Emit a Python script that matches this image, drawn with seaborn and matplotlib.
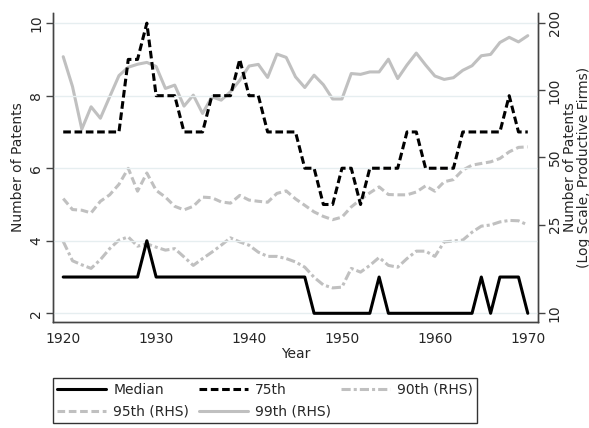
import matplotlib
matplotlib.use("Agg")
import matplotlib.pyplot as plt
import seaborn as sns
from matplotlib.ticker import FixedLocator, FixedFormatter, NullLocator

# patents per firm, percentiles by year
years = list(range(1920, 1971))
median = [3, 3, 3, 3, 3, 3, 3, 3, 3, 4,
          3, 3, 3, 3, 3, 3, 3, 3, 3, 3,
          3, 3, 3, 3, 3, 3, 3, 2, 2, 2,
          2, 2, 2, 2, 3, 2, 2, 2, 2, 2,
          2, 2, 2, 2, 2, 3, 2, 3, 3, 3, 2]
p75 = [7, 7, 7, 7, 7, 7, 7, 9, 9, 10,
       8, 8, 8, 7, 7, 7, 8, 8, 8, 9,
       8, 8, 7, 7, 7, 7, 6, 6, 5, 5,
       6, 6, 5, 6, 6, 6, 6, 7, 7, 6,
       6, 6, 6, 7, 7, 7, 7, 7, 8, 7, 7]
# right-hand side series (log scale)
p90 = [21.0, 17.2, 16.5, 15.9, 17.4, 19.5, 21.3, 22.0, 20.0, 20.5,
       19.8, 19.2, 19.5, 17.9, 16.4, 17.6, 18.8, 20.2, 21.8, 20.9,
       20.2, 18.8, 18.0, 18.0, 17.6, 17.0, 16.1, 14.5, 13.4, 13.0,
       13.1, 15.9, 15.3, 16.4, 17.8, 16.4, 16.1, 17.6, 19.0, 19.0,
       18.0, 20.9, 21.1, 21.3, 23.1, 24.6, 24.9, 25.7, 26.1, 26.0, 24.9]
p95 = [32.7, 29.2, 29.0, 28.2, 31.8, 34.0, 37.9, 44.7, 35.3, 42.6,
       35.6, 33.2, 30.2, 29.1, 30.2, 33.2, 33.0, 31.6, 31.2, 33.8,
       32.2, 31.8, 31.5, 34.5, 35.4, 32.6, 30.5, 28.5, 27.2, 26.3,
       27.0, 30.0, 32.4, 34.7, 36.9, 34.1, 34.0, 34.0, 35.0, 37.3,
       35.3, 38.9, 39.8, 43.9, 46.2, 47.0, 47.8, 49.5, 53.0, 55.5, 55.8]
p99 = [141.6, 104.0, 67.0, 84.4, 75.0, 93.6, 116.5, 127.0, 131.0, 133.5,
       128.0, 102.0, 105.6, 85.0, 95.2, 78.8, 93.6, 90.4, 98.6, 111.0,
       128.6, 130.8, 114.3, 145.5, 140.6, 115.0, 103.0, 117.0, 106.0, 91.5,
       91.5, 119.0, 118.0, 121.0, 121.0, 138.0, 113.0, 130.0, 147.0, 130.0,
       116.0, 112.0, 114.0, 123.0, 129.0, 143.0, 145.0, 164.0, 173.0, 165.0, 176.0]

left_ticks = [2, 4, 6, 8, 10]
right_ticks = [10, 25, 50, 100, 200]

sns.set_style("white")
plt.rcParams["font.family"] = ["DejaVu Sans"]

GRAY = "#c0c0c0"
LW = 2.2

fig = plt.figure(figsize=(5.89, 4.28), dpi=100)
ax = fig.add_axes([53 / 589, 1 - 322 / 428, 485 / 589, 309 / 428])
ax2 = ax.twinx()
ax.set_zorder(ax2.get_zorder() + 1)
ax.patch.set_visible(False)

# RHS series
sns.lineplot(x=years, y=p90, ax=ax2, color=GRAY, lw=LW,
             linestyle=(0, (3, 1, 1, 1)), label="90th (RHS)")
sns.lineplot(x=years, y=p95, ax=ax2, color=GRAY, lw=LW,
             linestyle=(0, (2.5, 1.2)), label="95th (RHS)")
sns.lineplot(x=years, y=p99, ax=ax2, color=GRAY, lw=LW, label="99th (RHS)")
# LHS series
sns.lineplot(x=years, y=median, ax=ax, color="black", lw=LW, label="Median")
sns.lineplot(x=years, y=p75, ax=ax, color="black", lw=LW,
             linestyle=(0, (2.5, 1.2)), label="75th")

for a in (ax, ax2):
    if a.get_legend() is not None:
        a.get_legend().remove()

ax.set_xlim(1918.9, 1971.1)
ax.set_ylim(1.76, 10.28)
ax.set_xticks([1920, 1930, 1940, 1950, 1960, 1970])
ax.yaxis.set_major_locator(FixedLocator(left_ticks))
ax.grid(axis="y", color="#e6eef0", lw=1)
ax.grid(axis="x", visible=False)

ax2.set_yscale("log")
ax2.set_ylim(9.14, 222.4)
ax2.yaxis.set_major_locator(FixedLocator(right_ticks))
ax2.yaxis.set_major_formatter(FixedFormatter([str(t) for t in right_ticks]))
ax2.yaxis.set_minor_locator(NullLocator())
ax2.grid(False)

for a in (ax, ax2):
    a.tick_params(axis="both", direction="out", length=5, width=1,
                  color="#444444", labelsize=10, pad=2)
    for side in ("left", "right", "bottom"):
        a.spines[side].set_visible(True)
        a.spines[side].set_color("#444444")
        a.spines[side].set_linewidth(1)
    a.spines["top"].set_visible(False)

for lab in ax.get_yticklabels():
    lab.set_rotation(90)
    lab.set_va("center")
for lab in ax2.get_yticklabels():
    lab.set_rotation(90)
    lab.set_va("center")

ax.set_xlabel("Year", fontsize=10, labelpad=1)
ax.set_ylabel("Number of Patents", fontsize=10)
ax.yaxis.set_label_coords(-0.058, 0.5)
ax2.set_ylabel("Number of Patents\n(Log Scale, Productive Firms)", fontsize=10,
               rotation=90, linespacing=0.95)
ax2.yaxis.set_label_coords(1.052, 0.5)

h1, l1 = ax.get_legend_handles_labels()
h2, l2 = ax2.get_legend_handles_labels()
handles = dict(zip(l1 + l2, h1 + h2))
order = ["Median", "95th (RHS)", "75th", "99th (RHS)", "90th (RHS)"]
leg = fig.legend([handles[k] for k in order], order, loc="lower left",
                 bbox_to_anchor=(53 / 589, 5 / 428), ncol=3, fontsize=10,
                 frameon=True, fancybox=False, edgecolor="black",
                 handlelength=3.5, columnspacing=0.7, borderpad=0.3,
                 labelspacing=0.6, handletextpad=0.55, borderaxespad=0)
leg.get_frame().set_linewidth(1)

fig.savefig("out.png", dpi=100)
